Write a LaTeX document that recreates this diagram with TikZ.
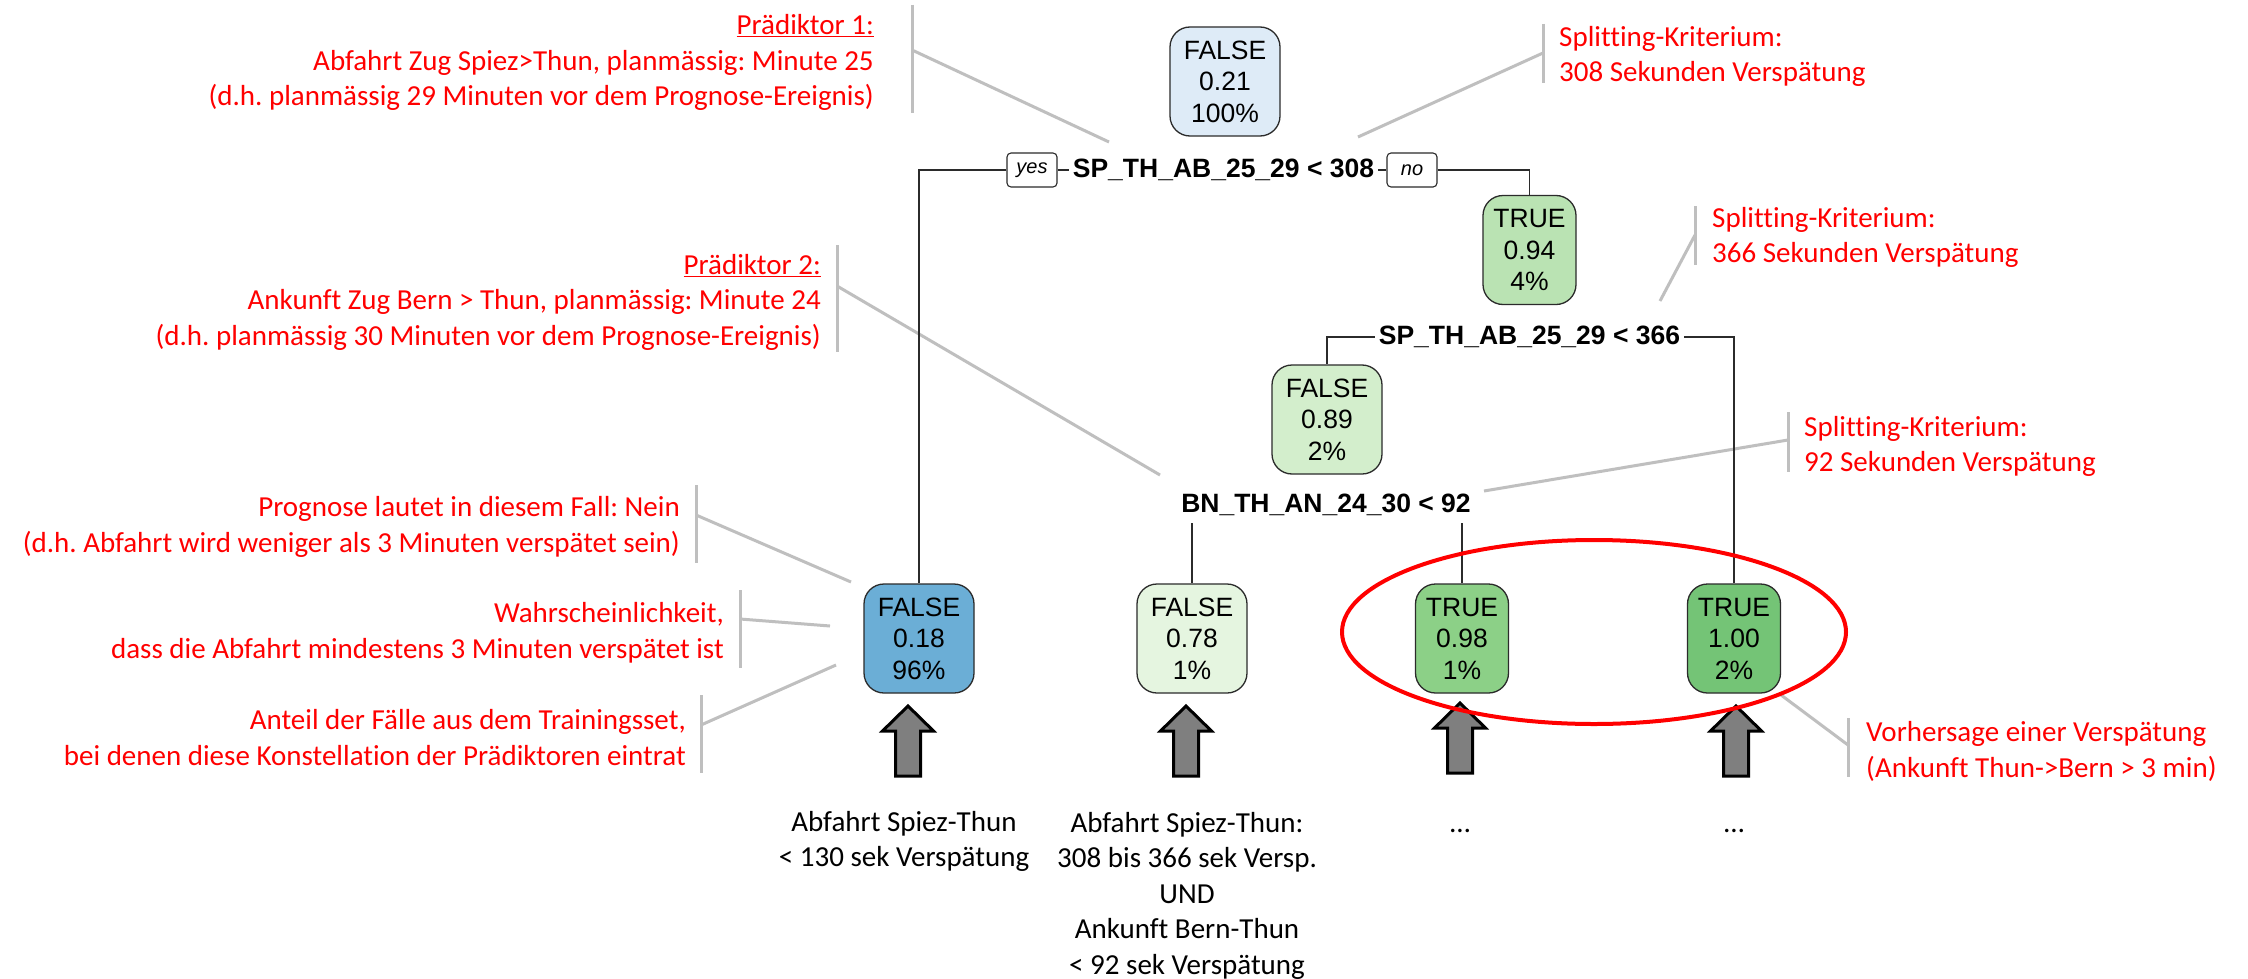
\documentclass[tikz,border=0pt]{standalone}
\usepackage{fontspec}
\setmainfont[Ligatures={NoCommon}]{Carlito}
\newfontfamily\arialf{Liberation Sans}
\frenchspacing
\definecolor{cRoot}{HTML}{DEEBF7}
\definecolor{cF18}{HTML}{6BAED6}
\definecolor{cF78}{HTML}{E5F5E0}
\definecolor{cF89}{HTML}{D3EECC}
\definecolor{cT94}{HTML}{BAE3B3}
\definecolor{cT98}{HTML}{8CD087}
\definecolor{cT100}{HTML}{74C476}
\definecolor{annGray}{HTML}{BFBFBF}
\definecolor{arrGray}{HTML}{7F7F7F}
\definecolor{treeCol}{HTML}{2B2B2B}
\newcommand{\upArrow}[2]{%
  \draw[bigarrow] (#1,#2) -- ++(25.5,25) -- ++(-13,0) -- ++(0,45) -- ++(-25,0) -- ++(0,-45) -- ++(-13,0) -- cycle;}
\begin{document}
\begin{tikzpicture}[x=1pt,y=-1pt,
  leaf/.style={draw=treeCol, line width=1.3pt, rounded corners=20pt, minimum height=109pt, inner sep=0pt, align=center, font=\arialf\fontsize{26.5}{31.5}\selectfont},
  wbox/.style={minimum width=110pt},
  nbox/.style={minimum width=93pt},
  splitlbl/.style={fill=white, inner xsep=4pt, inner ysep=7pt, font=\arialf\bfseries\fontsize{26.5}{30}\selectfont},
  yn/.style={draw=treeCol, fill=white, rounded corners=4pt, line width=1.1pt, minimum width=50pt, minimum height=34pt, inner sep=0pt, font=\arialf\itshape\fontsize{20}{24}\selectfont},
  treeln/.style={draw=treeCol, line width=1.4pt},
  grayln/.style={draw=annGray, line width=3pt},
  redtxt/.style={text=red, inner sep=0pt, font=\fontsize{29}{35.5}\selectfont},
  blktxt/.style={text=black, inner sep=0pt, align=center, font=\fontsize{29}{35.5}\selectfont},
  bigarrow/.style={fill=arrGray, draw=black, line width=3pt, line join=miter}
]
\useasboundingbox (0,0) rectangle (2248,979);
\fill[white] (0,0) rectangle (2248,979);

% annotation brackets and pointer lines
\draw[grayln] (912,5) -- (912,113);   \draw[grayln] (912,50) -- (1109,142);
\draw[grayln] (1543,24) -- (1543,83); \draw[grayln] (1543,53) -- (1358,137);
\draw[grayln] (837,245) -- (837,352); \draw[grayln] (837,286) -- (1160,475);
\draw[grayln] (1695,206) -- (1695,265); \draw[grayln] (1695,235) -- (1660,301);
\draw[grayln] (1788,412) -- (1788,472); \draw[grayln] (1788,440) -- (1484,491);
\draw[grayln] (696,485) -- (696,563); \draw[grayln] (696,515) -- (851,582);
\draw[grayln] (740,590) -- (740,668); \draw[grayln] (740,619) -- (830,626);
\draw[grayln] (701,695) -- (701,773); \draw[grayln] (701,725) -- (836,665);
\draw[grayln] (1848,718) -- (1848,777); \draw[grayln] (1848,745) -- (1781,695);

% tree nodes
\node[leaf,wbox,fill=cRoot] (root) at (1225,81.5) {FALSE\\0.21\\100\%};
\node[splitlbl] (s1) at (1223.5,170) {SP\_TH\_AB\_25\_29 < 308};
\node[yn] (yes) at (1032,170) {yes};
\node[yn] (no) at (1412,170) {no};
\node[leaf,nbox,fill=cT94] (t094) at (1529.5,250) {TRUE\\0.94\\4\%};
\node[splitlbl] (s2) at (1529.5,337) {SP\_TH\_AB\_25\_29 < 366};
\node[leaf,wbox,fill=cF89] (f089) at (1327,419.5) {FALSE\\0.89\\2\%};
\node[splitlbl] (s3) at (1326,505) {BN\_TH\_AN\_24\_30 < 92};
\node[leaf,wbox,fill=cF18] (f018) at (919,638.5) {FALSE\\0.18\\96\%};
\node[leaf,wbox,fill=cF78] (f078) at (1192,638.5) {FALSE\\0.78\\1\%};
\node[leaf,nbox,fill=cT98] (t098) at (1462,638.5) {TRUE\\0.98\\1\%};
\node[leaf,nbox,fill=cT100] (t100) at (1734,638.5) {TRUE\\1.00\\2\%};

% tree connectors
\draw[treeln] (yes.west) -| (f018.north);
\draw[treeln] (yes.east) -- (s1.west);
\draw[treeln] (s1.east) -- (no.west);
\draw[treeln] (no.east) -| (t094.north);
\draw[treeln] (s2.west) -| (f089.north);
\draw[treeln] (s2.east) -| (t100.north);
\draw[treeln] (s3.south -| f078.north) -- (f078.north);
\draw[treeln] (s3.south -| t098.north) -- (t098.north);

% red annotations
\node[redtxt, anchor=east, align=right] (p1) at (874,62.7) {\underline{Prädiktor 1:}\\Abfahrt Zug Spiez>Thun, planmässig: Minute 25\\(d.h. planmässig 29 Minuten vor dem Prognose-Ereignis)};
\node[redtxt, anchor=east, align=right] (p2) at (821,302) {\underline{Prädiktor 2:}\\Ankunft Zug Bern > Thun, planmässig: Minute 24\\(d.h. planmässig 30 Minuten vor dem Prognose-Ereignis)};
\node[redtxt, anchor=west, align=left] (k1) at (1559,56.5) {Splitting-Kriterium:\\308 Sekunden Verspätung};
\node[redtxt, anchor=west, align=left] (k2) at (1712,237.5) {Splitting-Kriterium:\\366 Sekunden Verspätung};
\node[redtxt, anchor=west, align=left] (k3) at (1804,446.5) {Splitting-Kriterium:\\92 Sekunden Verspätung};
\node[redtxt, anchor=east, align=right] (prog) at (680,527) {Prognose lautet in diesem Fall: Nein\\(d.h. Abfahrt wird weniger als 3 Minuten verspätet sein)};
\node[redtxt, anchor=east, align=right] (wahr) at (724,633) {Wahrscheinlichkeit,\\dass die Abfahrt mindestens 3 Minuten verspätet ist};
\node[redtxt, anchor=east, align=right] (ant) at (686,737.5) {Anteil der Fälle aus dem Trainingsset,\\bei denen diese Konstellation der Prädiktoren eintrat};
\node[redtxt, anchor=west, align=left] (vor) at (1866,751.5) {Vorhersage einer Verspätung\\(Ankunft Thun->Bern > 3 min)};

% block arrows
\upArrow{908}{706}
\upArrow{1186}{706}
\upArrow{1460}{703}
\upArrow{1736}{706}

% red ellipse
\draw[red, line width=4pt] (1594,632) ellipse [x radius=252pt, y radius=92pt];

% black descriptions
\node[blktxt] (b1) at (904,841.5) {Abfahrt Spiez-Thun\\< 130 sek Verspätung};
\node[blktxt] (b2) at (1187,895.6) {Abfahrt Spiez-Thun:\\308 bis 366 sek Versp.\\UND\\Ankunft Bern-Thun\\< 92 sek Verspätung};
\node[blktxt, anchor=base] (d1) at (1460,832) {…};
\node[blktxt, anchor=base] (d2) at (1734,832) {…};
\end{tikzpicture}
\end{document}
